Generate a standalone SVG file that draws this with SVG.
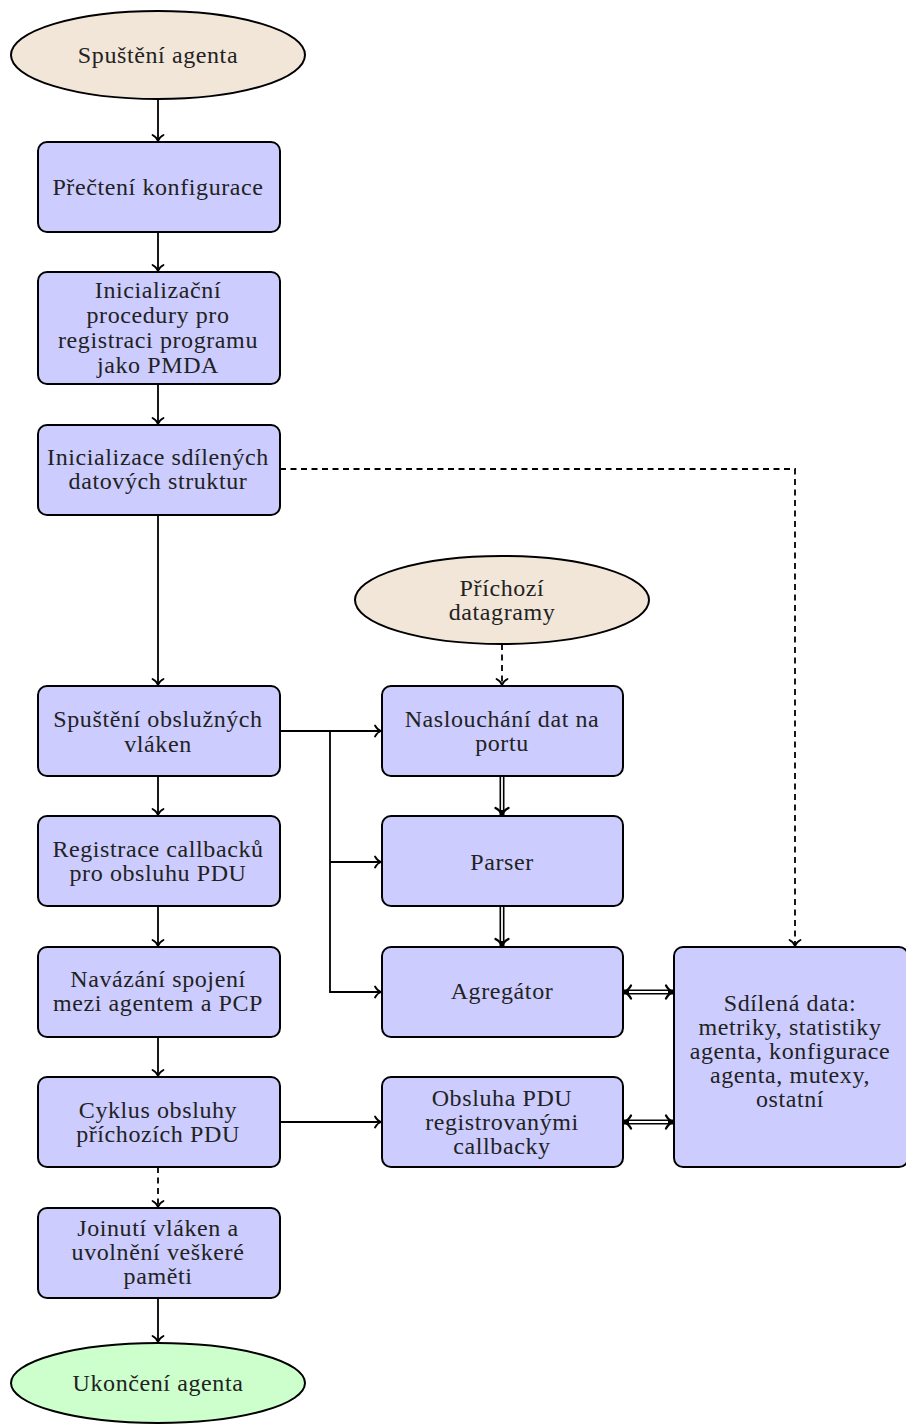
<svg xmlns="http://www.w3.org/2000/svg" width="906" height="1425" viewBox="0 0 906 1425">
<defs>
<style>
.box{fill:#ccccff;stroke:#000;stroke-width:2}
.start{fill:#f2e6d9;stroke:#000;stroke-width:2}
.end{fill:#ccffcc;stroke:#000;stroke-width:2}
text{font-family:"Liberation Serif","DejaVu Serif",serif;font-size:24px;fill:#222;text-anchor:middle;letter-spacing:0.6px}
.ln{fill:none;stroke:#000;stroke-width:1.8}
.dash{stroke-dasharray:6 4.5}
.dblo{fill:none;stroke:#000;stroke-width:5}
.dbli{fill:none;stroke:#fff;stroke-width:1.8}
</style>
<marker id="arr" markerUnits="userSpaceOnUse" markerWidth="14" markerHeight="14" viewBox="-8 -7 10 14" refX="0" refY="0" orient="auto" overflow="visible">
<path d="M-6,-5.5 C-4.2,-2.2 -2,-0.7 0,0 C-2,0.7 -4.2,2.2 -6,5.5" fill="none" stroke="#000" stroke-width="1.8" stroke-linecap="round" stroke-linejoin="round"/>
</marker>
<marker id="arr2" markerUnits="userSpaceOnUse" markerWidth="16" markerHeight="16" viewBox="-9 -8 11 16" refX="0" refY="0" orient="auto-start-reverse" overflow="visible">
<path d="M-7,-6.5 C-5,-2.8 -2.5,-0.9 0,0 C-2.5,0.9 -5,2.8 -7,6.5" fill="none" stroke="#000" stroke-width="2.3" stroke-linecap="round" stroke-linejoin="round"/>
</marker>
</defs>
<rect width="906" height="1425" fill="#fff"/>

<g id="connectors">
<path class="ln" d="M158,99 V141" marker-end="url(#arr)"/>
<path class="ln" d="M158,232 V271" marker-end="url(#arr)"/>
<path class="ln" d="M158,384 V424" marker-end="url(#arr)"/>
<path class="ln" d="M158,515 V685" marker-end="url(#arr)"/>
<path class="ln" d="M158,776 V815" marker-end="url(#arr)"/>
<path class="ln" d="M158,906 V946" marker-end="url(#arr)"/>
<path class="ln" d="M158,1037 V1076" marker-end="url(#arr)"/>
<path class="ln dash" d="M158,1167 V1207" marker-end="url(#arr)"/>
<path class="ln" d="M158,1298 V1342" marker-end="url(#arr)"/>
<path class="ln dash" d="M280,469 H795 V946" marker-end="url(#arr)"/>
<path class="ln dash" d="M502,644 V685" marker-end="url(#arr)"/>
<path class="ln" d="M280,731 H381" marker-end="url(#arr)"/>
<path class="ln" d="M330,731 V992 H381" marker-end="url(#arr)"/>
<path class="ln" d="M330,862 H381" marker-end="url(#arr)"/>
<path class="ln" d="M280,1122 H381" marker-end="url(#arr)"/>
<path class="dblo" d="M502,777 V815" marker-end="url(#arr2)"/>
<path class="dbli" d="M502,776 V810"/>
<path class="dblo" d="M502,907 V946" marker-end="url(#arr2)"/>
<path class="dbli" d="M502,906 V941"/>
<path class="dblo" d="M624,992 H673" marker-start="url(#arr2)" marker-end="url(#arr2)"/>
<path class="dbli" d="M629,992 H668"/>
<path class="dblo" d="M624,1122 H673" marker-start="url(#arr2)" marker-end="url(#arr2)"/>
<path class="dbli" d="M629,1122 H668"/>
</g>

<g id="start">
<ellipse class="start" cx="158" cy="55" rx="147" ry="44"/>
<text x="158" y="63">Spuštění agenta</text>
</g>
<g id="read-config">
<rect class="box" x="38" y="142" width="242" height="90" rx="9"/>
<text x="158" y="195">Přečtení konfigurace</text>
</g>
<g id="init-pmda">
<rect class="box" x="38" y="272" width="242" height="112" rx="9"/>
<text x="158" y="298">Inicializační</text>
<text x="158" y="323">procedury pro</text>
<text x="158" y="348">registraci programu</text>
<text x="158" y="373">jako PMDA</text>
</g>
<g id="init-shared">
<rect class="box" x="38" y="425" width="242" height="90" rx="9"/>
<text x="158" y="465">Inicializace sdílených</text>
<text x="158" y="489">datových struktur</text>
</g>
<g id="start-threads">
<rect class="box" x="38" y="686" width="242" height="90" rx="9"/>
<text x="158" y="727">Spuštění obslužných</text>
<text x="158" y="752">vláken</text>
</g>
<g id="register-callbacks">
<rect class="box" x="38" y="816" width="242" height="90" rx="9"/>
<text x="158" y="857">Registrace callbacků</text>
<text x="158" y="881">pro obsluhu PDU</text>
</g>
<g id="connect">
<rect class="box" x="38" y="947" width="242" height="90" rx="9"/>
<text x="158" y="987">Navázání spojení</text>
<text x="158" y="1011">mezi agentem a PCP</text>
</g>
<g id="loop">
<rect class="box" x="38" y="1077" width="242" height="90" rx="9"/>
<text x="158" y="1118">Cyklus obsluhy</text>
<text x="158" y="1142">příchozích PDU</text>
</g>
<g id="join">
<rect class="box" x="38" y="1208" width="242" height="90" rx="9"/>
<text x="158" y="1236">Joinutí vláken a</text>
<text x="158" y="1260">uvolnění veškeré</text>
<text x="158" y="1284">paměti</text>
</g>
<g id="end">
<ellipse class="end" cx="158" cy="1383" rx="147" ry="40"/>
<text x="158" y="1391">Ukončení agenta</text>
</g>
<g id="incoming">
<ellipse class="start" cx="502" cy="600" rx="147" ry="44"/>
<text x="502" y="596">Příchozí</text>
<text x="502" y="620">datagramy</text>
</g>
<g id="listen">
<rect class="box" x="382" y="686" width="241" height="90" rx="9"/>
<text x="502" y="727">Naslouchání dat na</text>
<text x="502" y="751">portu</text>
</g>
<g id="parser">
<rect class="box" x="382" y="816" width="241" height="90" rx="9"/>
<text x="502" y="870">Parser</text>
</g>
<g id="aggregator">
<rect class="box" x="382" y="947" width="241" height="90" rx="9"/>
<text x="502" y="999">Agregátor</text>
</g>
<g id="pdu-handling">
<rect class="box" x="382" y="1077" width="241" height="90" rx="9"/>
<text x="502" y="1106">Obsluha PDU</text>
<text x="502" y="1130">registrovanými</text>
<text x="502" y="1154">callbacky</text>
</g>
<g id="shared-data">
<rect class="box" x="674" y="947" width="234" height="220" rx="9"/>
<text x="790" y="1011">Sdílená data:</text>
<text x="790" y="1035">metriky, statistiky</text>
<text x="790" y="1059">agenta, konfigurace</text>
<text x="790" y="1083">agenta, mutexy,</text>
<text x="790" y="1107">ostatní</text>
</g>
</svg>
